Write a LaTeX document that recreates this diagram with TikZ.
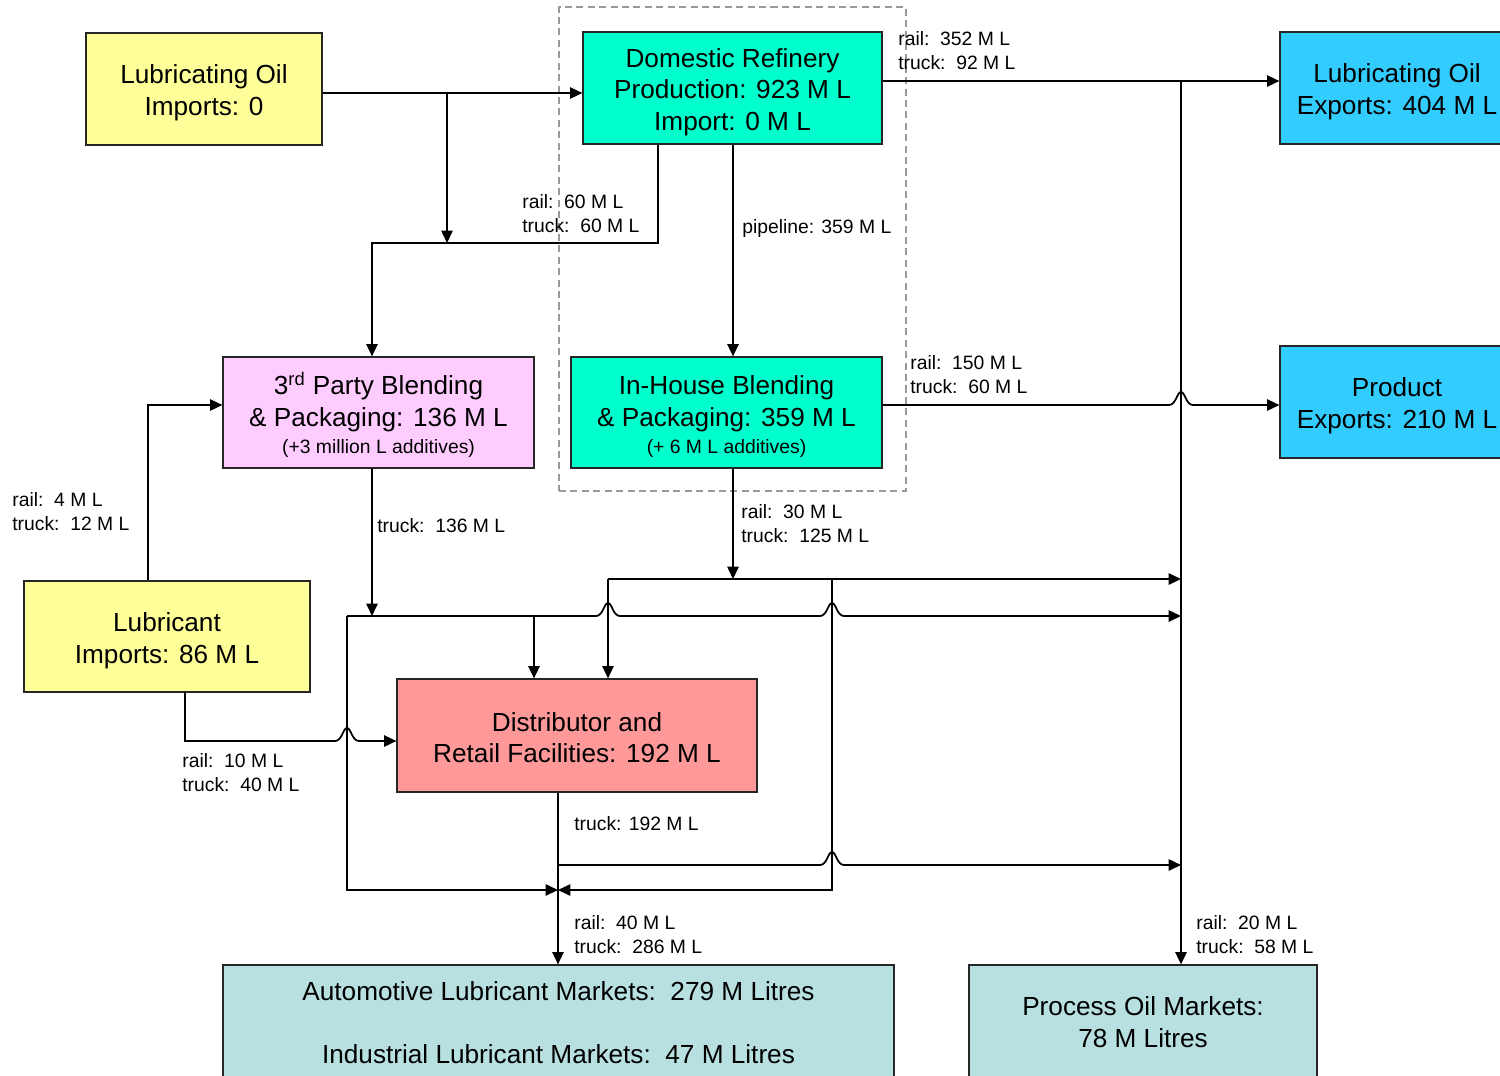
\documentclass[tikz,border=0pt]{standalone}
\usepackage{fontspec}
\setmainfont{Liberation Sans}
\usetikzlibrary{arrows.meta,calc}

\definecolor{lemon}{HTML}{FFFF99}
\definecolor{aqua}{HTML}{00FFCC}
\definecolor{sky}{HTML}{33CCFF}
\definecolor{orchid}{HTML}{FFCCFF}
\definecolor{salmonc}{HTML}{FF9999}
\definecolor{marketc}{HTML}{B8E0E0}

\newcommand\bxfont{\fontsize{14.9}{18.1}\selectfont}
\newcommand\lbfont{\fontsize{11}{13.6}\selectfont}
% taller first line, which sets the box text a little lower
\newcommand\boxtop[1][15.4pt]{\rule{0pt}{#1}}

% a small bump where one line crosses over another
\newcommand\hopat[1]{-- ($(#1)+(-12,0)$) .. controls ($(#1)+(-5,0)$) and ($(#1)+(-4,-13)$) .. ($(#1)+(0,-13)$) .. controls ($(#1)+(4,-13)$) and ($(#1)+(5,0)$) .. ($(#1)+(12,0)$)}

\begin{document}
\begin{tikzpicture}[x=0.02cm, y=-0.02cm,
  box/.style={draw=black!85, line width=0.7pt, inner sep=0pt, align=center, font=\bxfont},
  flow/.style={line width=1pt, line join=miter, -{Triangle[length=7pt,width=6.4pt]}},
  lbl/.style={inner sep=0pt, align=left, anchor=west, font=\lbfont},
  group/.style={draw=black!40, line width=0.7pt, dash pattern=on 4pt off 2.5pt, inner sep=0pt}]

\useasboundingbox (0,0) rectangle (1500,1075);
\clip (0,0) rectangle (1500,1075);

% refinery group outline
\node[group, minimum width=6.94cm, minimum height=9.68cm] (refgroup) at (732.5,249) {};

% boxes
\node[box, fill=lemon, minimum width=4.72cm, minimum height=2.24cm] (lubimp) at (204,89)
  {\boxtop Lubricating Oil\\Imports: 0};
\node[box, fill=aqua, minimum width=5.98cm, minimum height=2.24cm] (dom) at (732.5,88)
  {\boxtop Domestic Refinery\\Production: 923 M L\\Import: 0 M L};
\node[box, fill=sky, minimum width=4.68cm, minimum height=2.24cm] (exp1) at (1397,88)
  {\boxtop Lubricating Oil\\Exports: 404 M L};
\node[box, fill=sky, minimum width=4.68cm, minimum height=2.24cm] (exp2) at (1397,402)
  {\boxtop Product\\Exports: 210 M L};
\node[box, fill=orchid, minimum width=6.22cm, minimum height=2.22cm] (third) at (378.5,412.5)
  {\boxtop 3\textsuperscript{rd} Party Blending\\\& Packaging: 136 M L\\[-2.8pt]{\lbfont (+3 million L additives)}};
\node[box, fill=aqua, minimum width=6.22cm, minimum height=2.22cm] (inhouse) at (726.5,412.5)
  {\boxtop In-House Blending\\\& Packaging: 359 M L\\[-2.8pt]{\lbfont (+ 6 M L additives)}};
\node[box, fill=lemon, minimum width=5.72cm, minimum height=2.22cm] (lubric) at (167,636.5)
  {\boxtop Lubricant\\Imports: 86 M L};
\node[box, fill=salmonc, minimum width=7.2cm, minimum height=2.26cm] (dist) at (577,735.5)
  {\boxtop[13.2pt]Distributor and\\Retail Facilities: 192 M L};
\node[box, fill=marketc, minimum width=13.42cm, minimum height=2.3cm] (auto) at (558.5,1022.5)
  {Automotive Lubricant Markets:\ \ 279 M Litres\\[17.5pt]Industrial Lubricant Markets:\ \ 47 M Litres};
\node[box, fill=marketc, minimum width=6.96cm, minimum height=2.3cm] (proc) at (1143,1022.5)
  {Process Oil Markets:\\78 M Litres};

% routing rows and columns
\coordinate (r81) at (0,81);
\coordinate (r93) at (0,93);
\coordinate (r243) at (0,243);
\coordinate (r405) at (0,405);
\coordinate (r579) at (0,579);
\coordinate (r616) at (0,616);
\coordinate (r741) at (0,741);
\coordinate (r865) at (0,865);
\coordinate (r890) at (0,890);
\coordinate (c148) at (148,0);
\coordinate (c185) at (185,0);
\coordinate (c347) at (347,0);
\coordinate (c372) at (372,0);
\coordinate (c447) at (447,0);
\coordinate (c534) at (534,0);
\coordinate (c558) at (558,0);
\coordinate (c608) at (608,0);
\coordinate (c658) at (658,0);
\coordinate (c733) at (733,0);
\coordinate (c832) at (832,0);
\coordinate (c1181) at (1181,0);

% connectors
\draw[flow] (lubimp.east |- r93) -- (dom.west |- r93);
\draw[flow] (c447 |- r93) -- (c447 |- r243);
\draw[flow] (dom.south -| c658) -- (c658 |- r243) -- (c372 |- r243) -- (third.north -| c372);
\draw[flow] (dom.south -| c733) -- (inhouse.north -| c733);
\draw[flow] (dom.east |- r81) -- (exp1.west |- r81);
\draw[flow] (c1181 |- r81) -- (proc.north -| c1181);
\draw[flow] (inhouse.east |- r405) \hopat{c1181 |- r405} -- (exp2.west |- r405);
\draw[flow] (lubric.north -| c148) -- (c148 |- r405) -- (third.west |- r405);
\draw[flow] (lubric.south -| c185) -- (c185 |- r741) \hopat{c347 |- r741} -- (dist.west |- r741);
\draw[flow] (third.south -| c372) -- (c372 |- r616);
\draw[flow] (c347 |- r616) \hopat{c608 |- r616} \hopat{c832 |- r616} -- (c1181 |- r616);
\draw[flow] (c347 |- r616) -- (c347 |- r890) -- (c558 |- r890);
\draw[flow] (c534 |- r616) -- (dist.north -| c534);
\draw[flow] (inhouse.south -| c733) -- (c733 |- r579);
\draw[flow] (c608 |- r579) -- (c1181 |- r579);
\draw[flow] (c608 |- r579) -- (dist.north -| c608);
\draw[flow] (c832 |- r579) -- (c832 |- r890) -- (c558 |- r890);
\draw[flow] (dist.south -| c558) -- (auto.north -| c558);
\draw[flow] (c558 |- r865) \hopat{c832 |- r865} -- (c1181 |- r865);

% transport labels
\node[lbl] (t352) at (898,51) {rail:\ \ 352 M L\\truck:\ \ 92 M L};
\node[lbl] (t60) at (522,214) {rail:\ \ 60 M L\\truck:\ \ 60 M L};
\node[lbl] (tpipe) at (742,228) {pipeline: 359 M L};
\node[lbl] (t150) at (910,375) {rail:\ \ 150 M L\\truck:\ \ 60 M L};
\node[lbl] (t4) at (12,512) {rail:\ \ 4 M L\\truck:\ \ 12 M L};
\node[lbl] (t136) at (377,526) {truck:\ \ 136 M L};
\node[lbl] (t30) at (741,524) {rail:\ \ 30 M L\\truck:\ \ 125 M L};
\node[lbl] (t10) at (182,773) {rail:\ \ 10 M L\\truck:\ \ 40 M L};
\node[lbl] (t192) at (574,824) {truck: 192 M L};
\node[lbl] (t40) at (574,935) {rail:\ \ 40 M L\\truck:\ \ 286 M L};
\node[lbl] (t20) at (1196,935) {rail:\ \ 20 M L\\truck:\ \ 58 M L};
\end{tikzpicture}
\end{document}
